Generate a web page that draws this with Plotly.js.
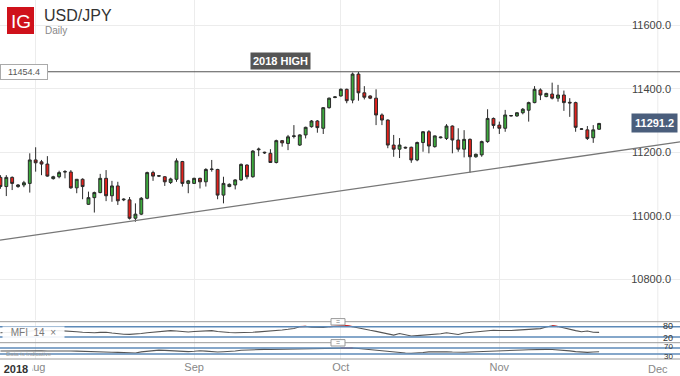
<!DOCTYPE html>
<html>
<head>
<meta charset="utf-8">
<script src="https://cdn.plot.ly/plotly-3.0.1.min.js"></script>
<style>
  html, body { margin: 0; padding: 0; background: #fff; }
  #chart { width: 680px; height: 376px; }
</style>
</head>
<body>
<div id="chart"></div>
<script>
// ---------------- DATA ----------------
const dates = [
  '2018-07-25','2018-07-26','2018-07-27','2018-07-29','2018-07-30','2018-07-31',
  '2018-08-01','2018-08-02','2018-08-03','2018-08-05','2018-08-06','2018-08-07','2018-08-08','2018-08-09','2018-08-10',
  '2018-08-12','2018-08-13','2018-08-14','2018-08-15','2018-08-16','2018-08-17',
  '2018-08-19','2018-08-20','2018-08-21','2018-08-22','2018-08-23','2018-08-24',
  '2018-08-26','2018-08-27','2018-08-28','2018-08-29','2018-08-30','2018-08-31',
  '2018-09-02','2018-09-03','2018-09-04','2018-09-05','2018-09-06','2018-09-07',
  '2018-09-09','2018-09-10','2018-09-11','2018-09-12','2018-09-13','2018-09-14',
  '2018-09-16','2018-09-17','2018-09-18','2018-09-19','2018-09-20','2018-09-21',
  '2018-09-23','2018-09-24','2018-09-25','2018-09-26','2018-09-27','2018-09-28',
  '2018-09-30','2018-10-01','2018-10-02','2018-10-03','2018-10-04','2018-10-05',
  '2018-10-07','2018-10-08','2018-10-09','2018-10-10','2018-10-11','2018-10-12',
  '2018-10-14','2018-10-15','2018-10-16','2018-10-17','2018-10-18','2018-10-19',
  '2018-10-21','2018-10-22','2018-10-23','2018-10-24','2018-10-25','2018-10-26',
  '2018-10-28','2018-10-29','2018-10-30','2018-10-31','2018-11-01','2018-11-02',
  '2018-11-04','2018-11-05','2018-11-06','2018-11-07','2018-11-08','2018-11-09',
  '2018-11-11','2018-11-12','2018-11-13','2018-11-14','2018-11-15','2018-11-16',
  '2018-11-18','2018-11-19','2018-11-20','2018-11-21'
];
const openP = [
  11121,11092,11121,11092,11097,11102,
  11176,11170,11163,11117,11123,11138,11138,11088,11115,
  11036,11057,11073,11118,11063,11094,
  11050,11050,10992,11005,11055,11136,
  11125,11123,11105,11115,11171,11102,
  11102,11118,11107,11146,11146,11065,
  11092,11097,11113,11160,11123,11208,
  11198,11197,11168,11237,11228,11250,
  11223,11255,11281,11299,11276,11341,
  11373,11378,11399,11365,11447,11388,
  11378,11371,11318,11302,11223,11210,
  11216,11216,11176,11231,11265,11218,
  11246,11244,11283,11239,11210,11241,
  11186,11192,11234,11307,11286,11276,
  11315,11315,11325,11333,11357,11397,
  11376,11384,11371,11381,11358,11357,
  11273,11271,11246,11273
];
const highP = [
  11128,11128,11124,11100,11110,11197,
  11216,11176,11188,11126,11142,11144,11144,11115,11118,
  11076,11076,11132,11144,11110,11107,
  11055,11059,11039,11059,11139,11142,
  11128,11125,11120,11181,11173,11113,
  11120,11120,11150,11176,11148,11123,
  11102,11115,11165,11162,11207,11215,
  11202,11210,11240,11239,11255,11286,
  11257,11281,11302,11302,11343,11373,
  11377,11402,11401,11452,11454,11409,
  11380,11399,11323,11304,11255,11245,
  11218,11218,11234,11267,11270,11253,
  11250,11289,11285,11276,11270,11244,
  11196,11237,11336,11310,11297,11334,
  11318,11327,11340,11360,11409,11402,
  11388,11420,11413,11395,11371,11360,
  11276,11283,11286,11293
];
const lowP = [
  11085,11062,11081,11088,11090,11073,
  11139,11128,11123,11114,11118,11118,11085,11071,11052,
  11034,11010,11071,11046,11044,11034,
  11046,10988,10981,11002,11052,11110,
  11122,11094,11100,11107,11092,11071,
  11100,11086,11092,11139,11052,11039,
  11090,11083,11110,11115,11120,11188,
  11195,11167,11165,11218,11207,11244,
  11220,11244,11278,11262,11258,11338,
  11371,11376,11355,11355,11363,11367,
  11368,11286,11286,11213,11186,11182,
  11212,11167,11172,11202,11197,11215,
  11244,11239,11197,11202,11184,11136,
  11183,11186,11230,11275,11258,11265,
  11313,11312,11320,11297,11355,11365,
  11374,11367,11360,11331,11312,11265,
  11271,11239,11230,11271
];
const closeP = [
  11092,11121,11102,11097,11104,11176,
  11167,11163,11125,11123,11136,11139,11088,11115,11092,
  11057,11073,11118,11063,11094,11047,
  11052,10992,11005,11055,11136,11125,
  11126,11107,11116,11173,11102,11110,
  11118,11107,11146,11147,11065,11102,
  11099,11113,11162,11123,11204,11210,
  11200,11168,11237,11230,11249,11252,
  11255,11279,11299,11278,11341,11371,
  11375,11399,11363,11447,11388,11374,
  11371,11318,11302,11223,11210,11223,
  11214,11176,11231,11265,11220,11252,
  11248,11283,11239,11210,11241,11186,
  11194,11234,11307,11285,11276,11318,
  11316,11325,11336,11357,11399,11381,
  11386,11371,11381,11357,11356,11279,
  11274,11244,11271,11291.2
];
// Money Flow Index (14)
const mfi = [
  45,47,48,46,50,56,58,57,55,56,57,56,53,51,48,46,45,47,48,43,38,36,35,36,40,45,49,52,54,57,
  55,51,49,52,55,56,57,52,48,46,45,45,47,48,50,52,55,58,61,65,70,80,82,77,75,76,80,82,85,86,
  80,72,65,59,53,46,38,31,40,34,26,28,30,31,34,39,45,40,35,43,47,49,52,55,59,58,57,58,60,62,
  63,65,69,78,86,81,72,64,57,51,55,48,47
];
// second oscillator (70/30 levels)
const osc = [
  50,51,50,49,50,55,54,52,50,51,52,52,50,49,47,45,44,45,43,42,41,38,35,37,44,48,54,56,54,52,
  49,46,46,48,52,49,44,43,45,46,50,55,57,59,60,61,60,61,61,62,62,63,64,65,65,66,67,68,70,72,
  70,67,63,58,53,48,45,42,39,37,35,36,40,44,46,45,45,43,41,42,43,45,48,50,51,52,53,54,55,57,
  58,60,61,61,60,58,55,51,46,43,41,43,45
];
const priceTicks = [10800, 11000, 11200, 11400, 11600];
const monthTickDates = ['2018-08-01','2018-09-02','2018-10-01','2018-11-01','2018-12-03'];
const monthTickLabels = ['Aug','Sep','Oct','Nov','Dec'];
const mfiLevels = [20, 80];
const oscLevels = [30, 70];
const yearHigh = 11454.4;
const lastPrice = closeP[closeP.length - 1];
const trendStartValue = 10923;   // trend line value at the left edge
const trendEndValue = 11233;     // trend line value at the right edge

// ---------------- LAYOUT HELPERS ----------------
const W = 680, H = 376, MB = 17, PH = H - MB;
const FONT = 'Liberation Sans, Arial, Helvetica, sans-serif';
const px = p => p / W;
const py = p => 1 - p / PH;
const GRID = '#ececec';

const candles = {
  type: 'candlestick',
  x: dates, open: openP, high: highP, low: lowP, close: closeP,
  xaxis: 'x', yaxis: 'y',
  increasing: { line: { color: '#2a2a2a', width: 1 }, fillcolor: '#3daa3d' },
  decreasing: { line: { color: '#2a2a2a', width: 1 }, fillcolor: '#e2211c' },
  whiskerwidth: 0,
  hoverinfo: 'skip'
};
const mfiLine = { type: 'scatter', mode: 'lines', x: dates, y: mfi, xaxis: 'x', yaxis: 'y2',
  line: { color: '#555', width: 1.1 }, hoverinfo: 'skip' };
const mfiHot = { type: 'scatter', mode: 'lines', x: dates, y: mfi.map(v => v >= 80 ? v : null), xaxis: 'x', yaxis: 'y2',
  line: { color: '#d62020', width: 1.2 }, connectgaps: false, hoverinfo: 'skip' };
const oscLine = { type: 'scatter', mode: 'lines', x: dates, y: osc, xaxis: 'x', yaxis: 'y3',
  line: { color: '#555', width: 1.1 }, hoverinfo: 'skip' };
const oscHot = { type: 'scatter', mode: 'lines', x: dates, y: osc.map(v => v >= 70 ? v : null), xaxis: 'x', yaxis: 'y3',
  line: { color: '#d62020', width: 1.2 }, connectgaps: false, hoverinfo: 'skip' };

// the axis drops the last (future) month tick, so it is drawn from the same arrays below
const nAxisTicks = monthTickDates.length - 1;
const lastTickDate = monthTickDates[nAxisTicks];
const lastTickLabel = monthTickLabels[nAxisTicks];

const shapes = [];
// gridline for the future month tick
shapes.push({ type: 'line', xref: 'x', yref: 'paper', x0: lastTickDate, x1: lastTickDate, y0: 0, y1: 1,
  layer: 'below', line: { color: GRID, width: 1 } });
// separators between panels
[321.7, 342.7, 359].forEach(p => shapes.push({ type: 'line', xref: 'paper', yref: 'paper',
  x0: 0, x1: 1, y0: py(p), y1: py(p), line: { color: '#9a9a9a', width: 1 } }));
// oscillator levels
mfiLevels.forEach(v => shapes.push({ type: 'line', xref: 'paper', yref: 'y2', x0: 0, x1: 1, y0: v, y1: v,
  line: { color: '#5d8ab8', width: 1.6 } }));
oscLevels.forEach(v => shapes.push({ type: 'line', xref: 'paper', yref: 'y3', x0: 0, x1: 1, y0: v, y1: v,
  line: { color: '#5d8ab8', width: 1.6 } }));
// 2018 high
shapes.push({ type: 'line', xref: 'paper', yref: 'y', x0: 0, x1: 1, y0: yearHigh, y1: yearHigh,
  line: { color: '#555', width: 1.2 } });
// trend line
shapes.push({ type: 'line', xref: 'paper', yref: 'y', x0: 0, x1: 1, y0: trendStartValue, y1: trendEndValue,
  line: { color: '#777', width: 1.3 } });
// IG logo
shapes.push({ type: 'rect', xref: 'paper', yref: 'paper', x0: px(7), x1: px(34), y0: py(34), y1: py(7),
  fillcolor: '#cf111b', line: { width: 0 } });
// panel handles
[[318.6, 325], [339.6, 346]].forEach(r => shapes.push({ type: 'rect', xref: 'paper', yref: 'paper',
  x0: px(331), x1: px(345), y0: py(r[1]), y1: py(r[0]), fillcolor: '#fff', line: { color: '#999', width: 1 } }));

const C = { xanchor: 'center', yanchor: 'middle', showarrow: false };
const L = { xanchor: 'left', yanchor: 'middle', showarrow: false };
const R = { xanchor: 'right', yanchor: 'middle', showarrow: false };
const annotations = [
  Object.assign({ text: 'IG', xref: 'paper', yref: 'paper', x: px(20.5), y: py(21),
    font: { family: FONT, size: 19, color: '#fff' } }, C),
  Object.assign({ text: 'USD/JPY', xref: 'paper', yref: 'paper', x: px(42), y: py(16),
    font: { family: FONT, size: 16, color: '#333' } }, L),
  Object.assign({ text: 'Daily', xref: 'paper', yref: 'paper', x: px(42.5), y: py(30.5),
    font: { family: FONT, size: 10, color: '#888' } }, L),
  Object.assign({ text: yearHigh.toFixed(1), xref: 'paper', yref: 'y', x: px(24), y: yearHigh,
    bgcolor: '#fff', bordercolor: '#aaa', borderwidth: 1, borderpad: 1, width: 44, height: 12,
    font: { family: FONT, size: 9, color: '#555' } }, C),
  Object.assign({ text: '<b>2018 HIGH</b>', xref: 'paper', yref: 'paper', x: px(280.5), y: py(60.5),
    bgcolor: '#555', borderpad: 2, font: { family: FONT, size: 11, color: '#fff' } }, C),
  Object.assign({ text: '<b>' + lastPrice.toFixed(1) + '</b>', xref: 'paper', yref: 'y', x: px(654.5), y: lastPrice,
    bgcolor: '#4a5e7c', borderpad: 3, font: { family: FONT, size: 11, color: '#fff' } }, C),
  Object.assign({ text: 'MFI  14  \u00d7', xref: 'paper', yref: 'paper', x: px(2), y: py(332.5),
    bgcolor: 'rgba(255,255,255,0.9)', width: 61, height: 11, align: 'center', borderpad: 0,
    font: { family: FONT, size: 10, color: '#777' } }, L),
  Object.assign({ text: 'Data is indicative', xref: 'paper', yref: 'paper', x: px(4), y: py(353.5),
    font: { family: FONT, size: 6, color: '#999' } }, L),
  Object.assign({ text: '=', xref: 'paper', yref: 'paper', x: px(338), y: py(321.8),
    font: { family: FONT, size: 7, color: '#777' } }, C),
  Object.assign({ text: '=', xref: 'paper', yref: 'paper', x: px(338), y: py(342.8),
    font: { family: FONT, size: 7, color: '#777' } }, C),
  Object.assign({ text: '<b>2018</b>', xref: 'paper', yref: 'paper', x: px(16), y: py(369),
    bgcolor: '#fff', borderpad: 1, width: 30, font: { family: FONT, size: 11, color: '#333' } }, C),
  Object.assign({ text: lastTickLabel, xref: 'x', yref: 'paper', x: lastTickDate, y: py(368.5),
    font: { family: FONT, size: 11, color: '#888' } }, C)
];
// oscillator level labels at the right edge (nudged apart so they stay readable)
mfiLevels.forEach((v, i) => annotations.push(Object.assign({ text: String(v), xref: 'paper', yref: 'y2', x: px(674), y: v,
  yshift: i === 0 ? -1 : 1, borderpad: 0, font: { family: FONT, size: 9, color: '#333' } }, R)));
oscLevels.forEach((v, i) => annotations.push(Object.assign({ text: String(v), xref: 'paper', yref: 'y3', x: px(674), y: v,
  yshift: i === 0 ? -2 : 2, borderpad: 0, font: { family: FONT, size: 8, color: '#333' } }, R)));

const layout = {
  width: W, height: H,
  margin: { l: 0, r: 0, t: 0, b: MB, pad: 0 },
  paper_bgcolor: '#fff', plot_bgcolor: '#fff',
  showlegend: false,
  font: { family: FONT, size: 11, color: '#444' },
  xaxis: {
    type: 'date', anchor: 'y3',
    range: ['2018-07-24 22:15', '2018-12-06 18:45'],
    rangebreaks: [{ bounds: ['sat', 'sun'] }],
    rangeslider: { visible: false },
    tickmode: 'array', tickvals: monthTickDates.slice(0, nAxisTicks), ticktext: monthTickLabels.slice(0, nAxisTicks),
    showgrid: true, gridcolor: GRID, gridwidth: 1,
    ticks: '', showline: false, zeroline: false,
    tickfont: { family: FONT, size: 11, color: '#888' }
  },
  yaxis: {
    domain: [py(320), 1], range: [10670.8, 11680.9], side: 'right', anchor: 'x',
    tickmode: 'array', tickvals: priceTicks, tickformat: '.1f',
    ticklabelposition: 'inside', ticklabelstandoff: 6,
    showgrid: true, gridcolor: GRID, zeroline: false, showline: false, ticks: '',
    tickfont: { family: FONT, size: 11, color: '#444' }
  },
  yaxis2: {
    domain: [py(342.7), py(321.7)], range: [-13.4, 109.3], side: 'right', anchor: 'x',
    showticklabels: false, showgrid: false, zeroline: false, showline: false, ticks: ''
  },
  yaxis3: {
    domain: [0, py(342.7)], range: [-3.3, 105.3], side: 'right', anchor: 'x',
    showticklabels: false, showgrid: false, zeroline: false, showline: false, ticks: ''
  },
  shapes: shapes,
  annotations: annotations
};

Plotly.newPlot('chart', [candles, mfiLine, mfiHot, oscLine, oscHot], layout, { staticPlot: true, displayModeBar: false });
</script>
</body>
</html>
